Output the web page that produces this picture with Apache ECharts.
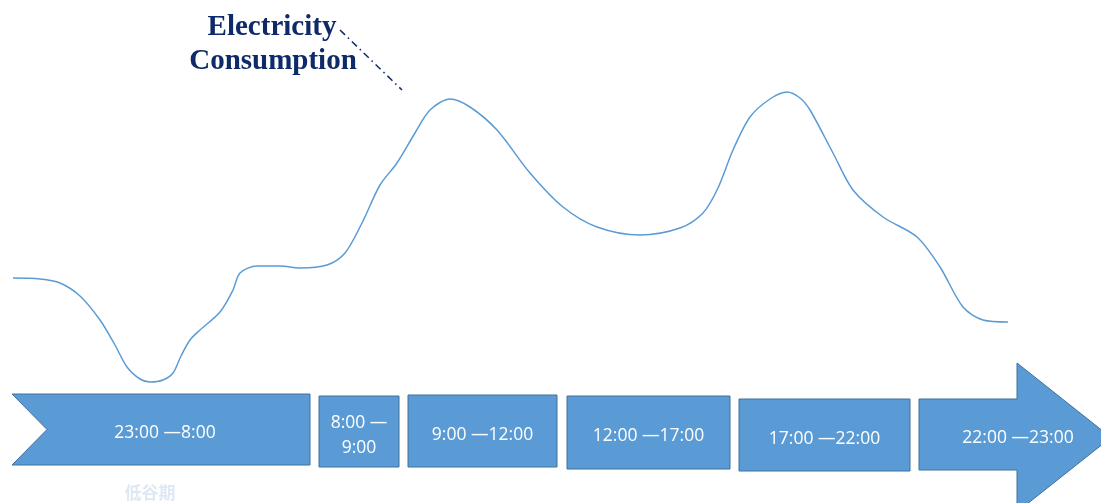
<!DOCTYPE html>
<html>
<head>
<meta charset="utf-8">
<script src="https://cdn.jsdelivr.net/npm/echarts@6/dist/echarts.min.js"></script>
<style>
  html, body { margin: 0; padding: 0; background: #fff; }
  #main { width: 1101px; height: 503px; }
</style>
</head>
<body>
<div id="main"></div>
<script>
// 用电曲线 (横向位置, 用电水平)
var curveX = [13, 40, 60, 80, 100, 115, 127, 140, 150, 163, 173, 181, 190, 200, 220, 233, 240, 257, 280, 300, 327, 345, 362, 380, 397, 415, 430, 450, 470, 497, 530, 563, 597, 640, 680, 703, 718, 733, 750, 770, 787, 800, 810, 833, 853, 883, 917, 940, 963, 983, 1008];
var curveY = [225, 224, 220, 207, 183, 158, 136, 124, 121, 123, 130, 147, 163, 173, 191, 213, 230, 237, 237, 235, 238, 250, 280, 318, 340, 370, 393, 404, 396, 373, 330, 296, 276, 268, 275, 290, 315, 353, 386, 404, 411, 405, 393, 350, 313, 286, 266, 236, 196, 183, 181];

// 时段
var periods = ['23:00 —8:00', '8:00 —\n9:00', '9:00 —12:00', '12:00 —17:00', '17:00 —22:00', '22:00 —23:00'];
var periodStart = [12, 319, 408, 567, 739, 919];
var periodEnd = [310, 399, 557, 730, 910, 1017];
var periodTop = [109, 107, 108, 107, 104, 104];
var periodBottom = [38, 36, 36, 34, 32, 33];
var periodShape = ['notch', 'box', 'box', 'box', 'box', 'arrow'];

var chart = echarts.init(document.getElementById('main'));

var lineData = curveX.map(function (x, i) { return [x, curveY[i]]; });
var periodData = periods.map(function (p, i) {
  return [periodStart[i], periodEnd[i], periodTop[i], periodBottom[i], i];
});

function renderPeriod(params, api) {
  var i = api.value(4);
  var a = api.coord([api.value(0), api.value(2)]);
  var b = api.coord([api.value(1), api.value(3)]);
  var x0 = a[0], y0 = a[1], x1 = b[0], y1 = b[1];
  var mid = (y0 + y1) / 2;
  var pts;
  var tx = (x0 + x1) / 2;
  if (periodShape[i] === 'notch') {
    pts = [[x0, y0], [x1, y0], [x1, y1], [x0, y1], [x0 + 35, mid]];
    tx += 4;
  } else if (periodShape[i] === 'arrow') {
    pts = [[x0, y0], [x1, y0], [x1, y0 - 36], [x1 + 94, mid + 3], [x1, y1 + 42], [x1, y1], [x0, y1]];
    tx = x0 + 99;
  } else {
    pts = [[x0, y0], [x1, y0], [x1, y1], [x0, y1]];
  }
  return {
    type: 'group',
    children: [{
      type: 'polygon',
      shape: { points: pts },
      style: { fill: '#5B9BD5', stroke: '#41719C', lineWidth: 1 }
    }, {
      type: 'text',
      x: tx,
      y: mid + 4,
      style: {
        text: periods[i],
        fill: '#fff',
        font: '17.5px "Open Sans"',
        align: 'center',
        verticalAlign: 'middle',
        lineHeight: 25
      }
    }]
  };
}

var option = {
  animation: false,
  grid: { left: 0, right: 0, top: 0, bottom: 0 },
  xAxis: { type: 'value', min: 0, max: 1101, show: false },
  yAxis: { type: 'value', min: 0, max: 503, show: false },
  graphic: [
    {
      type: 'text', x: 272, y: 28,
      style: { text: 'Electricity', font: 'bold 29px "Liberation Serif"', fill: '#0E2A68', align: 'center', verticalAlign: 'middle' }
    },
    {
      type: 'text', x: 273, y: 62,
      style: { text: 'Consumption', font: 'bold 29px "Liberation Serif"', fill: '#0E2A68', align: 'center', verticalAlign: 'middle' }
    },
    {
      type: 'line',
      shape: { x1: 340, y1: 30, x2: 402, y2: 90 },
      style: { stroke: '#0E2A68', lineWidth: 1.5, lineDash: [7, 4, 1.5, 4] }
    },
    {
      type: 'text', x: 150, y: 493,
      style: { text: '低谷期', font: 'bold 17px "Noto Sans CJK SC"', fill: '#DDE8F4', align: 'center', verticalAlign: 'middle' }
    }
  ],
  series: [
    {
      type: 'line',
      data: lineData,
      smooth: 0.3,
      showSymbol: false,
      lineStyle: { color: '#5B9BD5', width: 1.5 },
      z: 3
    },
    {
      type: 'custom',
      data: periodData,
      renderItem: renderPeriod,
      clip: false,
      z: 2
    }
  ]
};

chart.setOption(option);
</script>
</body>
</html>
